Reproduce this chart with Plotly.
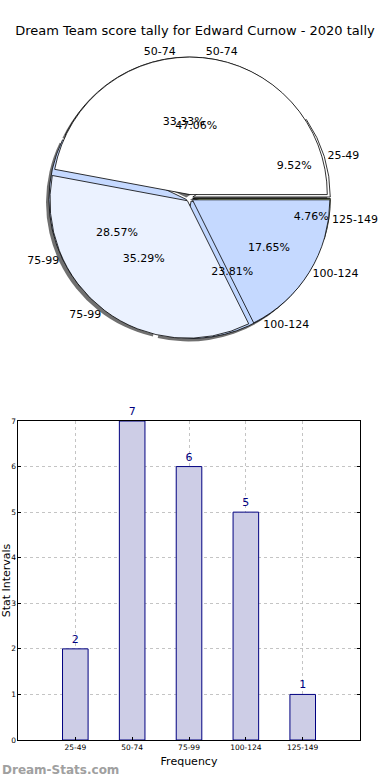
import plotly.graph_objects as go

# ---- data ----
title_text = "Dream Team score tally for Edward Curnow - 2020 tally"
intervals = ["25-49", "50-74", "75-99", "100-124", "125-149"]
counts = [2, 7, 6, 5, 1]

pie2_labels = ["50-74", "75-99", "100-124"]
pie2_values = [8, 6, 3]

pie1_colors = ["#FFFFFF", "#FFFFFF", "#C5D9FF", "#BFD6FF", "#C9DA8C"]
pie2_colors = ["#FFFFFF", "#EBF2FF", "#C5D9FF"]

W, H = 390, 780
FONT = "DejaVu Sans"

def px(x):
    return x / W
def py(y):
    return 1 - y / H

# pie placement (window pixels)
cx, cy, rad = 195, 198, 145
def dom_x(dx=0):
    return [px(cx - rad + dx), px(cx + rad + dx)]
def dom_y(dy=0):
    return [py(cy + rad + dy), py(cy - rad + dy)]

PULL = 0.025

# counter-clockwise from 3 o'clock == clockwise from 3 o'clock with reversed order
p1_lab, p1_val, p1_col = intervals[::-1], counts[::-1], pie1_colors[::-1]
p2_lab, p2_val, p2_col = pie2_labels[::-1], pie2_values[::-1], pie2_colors[::-1]

fig = go.Figure()

common = dict(sort=False, direction="clockwise", rotation=90,
              hoverinfo="skip", showlegend=False)

# shadow
fig.add_trace(go.Pie(labels=p1_lab, values=p1_val, pull=PULL,
                     domain=dict(x=dom_x(-3), y=dom_y(3)),
                     marker=dict(colors=["#707070"] * len(p1_val), line=dict(width=0)),
                     textinfo="none", **common))
# bottom pie fill
fig.add_trace(go.Pie(labels=p1_lab, values=p1_val, pull=PULL,
                     domain=dict(x=dom_x(), y=dom_y()),
                     marker=dict(colors=p1_col, line=dict(color="black", width=0.8)),
                     textinfo="none", **common))
# top pie fill
fig.add_trace(go.Pie(labels=p2_lab, values=p2_val, pull=PULL,
                     domain=dict(x=dom_x(), y=dom_y()),
                     marker=dict(colors=p2_col, line=dict(color="black", width=0.8)),
                     textinfo="none", **common))
# percent texts
for labs, vals in [(p1_lab, p1_val), (p2_lab, p2_val)]:
    fig.add_trace(go.Pie(labels=labs, values=vals, pull=PULL,
                         domain=dict(x=dom_x(), y=dom_y()),
                         marker=dict(colors=["rgba(0,0,0,0)"] * len(vals), line=dict(width=0)),
                         textinfo="percent", textposition="inside",
                         insidetextorientation="horizontal",
                         texttemplate="%{percent:.2%}",
                         textfont=dict(family=FONT, size=11, color="black"),
                         **common))
# outside labels
for labs, vals in [(p1_lab, p1_val), (p2_lab, p2_val)]:
    fig.add_trace(go.Pie(labels=labs, values=vals, pull=PULL,
                         domain=dict(x=dom_x(), y=dom_y()),
                         marker=dict(colors=["rgba(0,0,0,0)"] * len(vals), line=dict(width=0)),
                         textinfo="label", textposition="outside",
                         textfont=dict(family=FONT, size=11, color="black"),
                         **common))

# bar chart
fig.add_trace(go.Bar(x=intervals, y=counts, width=0.45,
                     marker=dict(color="#CDCDE6", line=dict(color="#000080", width=1)),
                     text=[str(c) for c in counts], textposition="outside",
                     textfont=dict(family=FONT, size=11, color="#000080"),
                     cliponaxis=False, hoverinfo="skip", showlegend=False))

fig.update_layout(
    width=W, height=H,
    margin=dict(l=0, r=0, t=0, b=0),
    paper_bgcolor="white", plot_bgcolor="white",
    font=dict(family=FONT, color="black"),
    uniformtext=dict(minsize=11, mode="show"),
    title=dict(text=title_text, x=px(195), xanchor="center", y=py(30), yanchor="middle",
               font=dict(family=FONT, size=13, color="black")),
    xaxis=dict(domain=[px(19), px(370)], type="category", range=[-1, 5],
               automargin=False,
               showline=True, linecolor="black", linewidth=1, mirror=True,
               ticks="inside", ticklen=3, tickcolor="black",
               tickfont=dict(family=FONT, size=7.5),
               showgrid=True, gridcolor="#C4C4C4", griddash="dot", gridwidth=1,
               zeroline=False,
               title=dict(text="Frequency", font=dict(family=FONT, size=11), standoff=6)),
    yaxis=dict(domain=[py(740), py(421)], range=[0, 7], dtick=1,
               automargin=False,
               showline=True, linecolor="black", linewidth=1, mirror="allticks",
               ticks="inside", ticklen=3, tickcolor="black",
               tickfont=dict(family=FONT, size=7.5),
               showgrid=True, gridcolor="#C4C4C4", griddash="dot", gridwidth=1,
               zeroline=False,
               title=dict(text="Stat Intervals", font=dict(family=FONT, size=11), standoff=4)),
    annotations=[dict(text="<b>Dream-Stats.com</b>", x=px(0), y=py(770),
                      xref="paper", yref="paper", xanchor="left", yanchor="middle",
                      showarrow=False, font=dict(family=FONT, size=12, color="#A0A0A0"))],
)

fig.write_html("out.html",
               config={"displayModeBar": False},
               post_script="document.body.style.margin='0';document.body.style.overflow='hidden';")
